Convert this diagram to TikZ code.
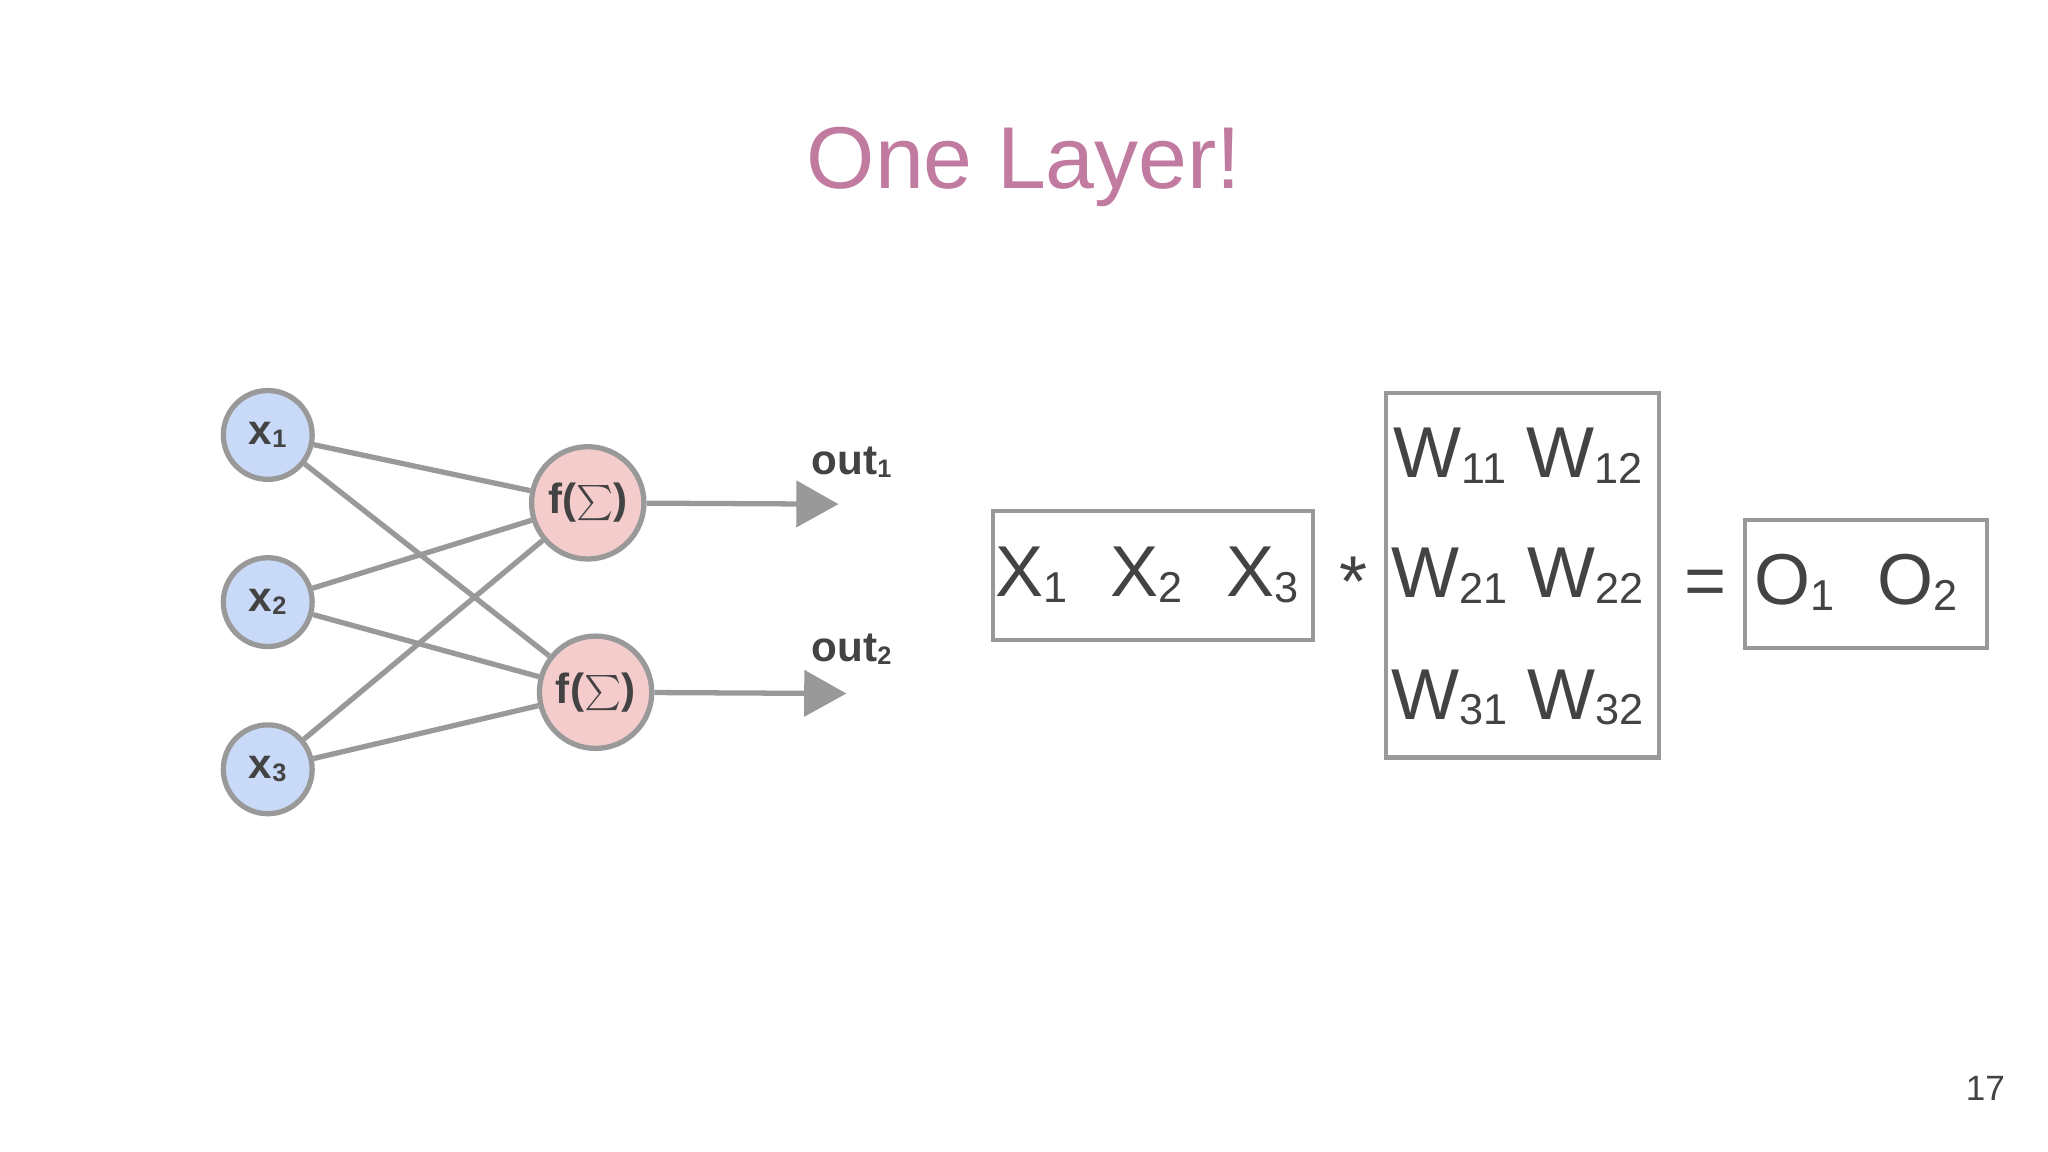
\documentclass[tikz,border=0pt]{standalone}
\usepackage{fontspec}
\setmainfont{Liberation Sans}
\usetikzlibrary{arrows.meta}
\definecolor{lg}{HTML}{999999}
\definecolor{tx}{HTML}{434343}
\definecolor{inpc}{HTML}{C9DAF8}
\definecolor{actc}{HTML}{F4CCCC}
\newcommand{\mysub}[1]{\raisebox{-0.15ex}{\scalebox{0.6}{#1}}}
\begin{document}
\begin{tikzpicture}[x=0.01306cm,y=-0.01306cm,
  edge/.style={draw=lg,line width=1.5pt},
  inp/.style={circle,draw=lg,line width=1.5pt,fill=inpc,minimum size=68*0.01306cm,inner sep=0pt,text=tx,font=\fontsize{12}{14}\selectfont\bfseries},
  act/.style={circle,draw=lg,line width=1.5pt,fill=actc,minimum size=86*0.01306cm,inner sep=0pt,text=tx,font=\fontsize{12}{14}\selectfont\bfseries},
  box/.style={draw=lg,line width=1.2pt,inner sep=0pt},
  big/.style={text=tx,font=\fontsize{20.5}{24}\selectfont}]
\fill[white] (0,0) rectangle (1568,882);
\useasboundingbox (0,0) rectangle (1568,882);
\node (title) at (784,128) [text={rgb,255:red,194;green,123;blue,160},font=\fontsize{25}{30}\selectfont] {One Layer!};
\node[inp] (x1) at (205,333) {x\mysub{1}};
\node[inp] (x2) at (205,461) {x\mysub{2}};
\node[inp] (x3) at (205,589) {x\mysub{3}};
\node[act] (f1) at (450,385) {f($\sum$)};
\node[act] (f2) at (456,530) {f($\sum$)};
\coordinate (o1) at (642,386);
\coordinate (o2) at (648,531);
\draw[edge] (x1) -- (f1); \draw[edge] (x1) -- (f2);
\draw[edge] (x2) -- (f1); \draw[edge] (x2) -- (f2);
\draw[edge] (x3) -- (f1); \draw[edge] (x3) -- (f2);
\draw[edge,-{Triangle[length=12pt,width=13pt]}] (f1) -- (o1);
\draw[edge,-{Triangle[length=12pt,width=13pt]}] (f2) -- (o2);
\node (l1) at (652,354) [text=tx,font=\fontsize{12}{14}\selectfont\bfseries] {out\mysub{1}};
\node (l2) at (652,497) [text=tx,font=\fontsize{12}{14}\selectfont\bfseries] {out\mysub{2}};
\draw[box] (760,391) rectangle (1005,490);
\node[big] (X) at (878,440) {X\mysub{1}\hspace{0.6em}X\mysub{2}\hspace{0.6em}X\mysub{3}};
\node[big] (star) at (1036,445) {*};
\draw[box] (1061,301) rectangle (1270,580);
\node[big] (w1) at (1162,349) {W\mysub{11} W\mysub{12}};
\node[big] (w2) at (1162,441) {W\mysub{21} W\mysub{22}};
\node[big] (w3) at (1162,534) {W\mysub{31} W\mysub{32}};
\node[big] (eq) at (1306,450) {=};
\draw[box] (1336,398) rectangle (1521,496);
\node[big] (O) at (1421,446) {O\mysub{1}\hspace{0.6em}O\mysub{2}};
\node (pg) at (1520,833) [text=tx,font=\fontsize{10}{12}\selectfont] {17};
\end{tikzpicture}
\end{document}
